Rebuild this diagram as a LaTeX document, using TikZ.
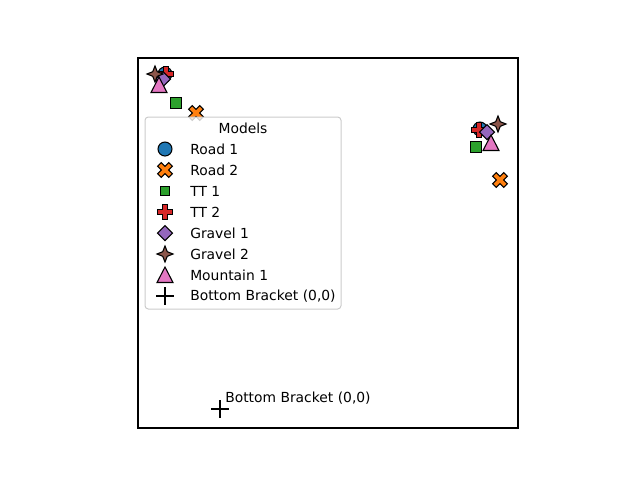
\documentclass[tikz,border=0pt]{standalone}
\usepackage{fontspec}
\setmainfont{DejaVu Sans}
\definecolor{C0}{HTML}{1F77B4}
\definecolor{C1}{HTML}{FF7F0E}
\definecolor{C2}{HTML}{2CA02C}
\definecolor{C3}{HTML}{D62728}
\definecolor{C4}{HTML}{9467BD}
\definecolor{C5}{HTML}{8C564B}
\definecolor{C6}{HTML}{E377C2}
\definecolor{legedge}{HTML}{CCCCCC}
\tikzset{
  mk/.style={draw=black, line width=0.8pt, line join=miter},
  lbl/.style={inner sep=0pt, anchor=west, font=\fontsize{10.4}{12}\selectfont},
  pics/mcirc/.style={code={\filldraw[mk,fill=#1] (0,0) circle (7);}},
  pics/mx/.style={code={\filldraw[mk,fill=#1,scale=3.7] (-1,-2)--(0,-1)--(1,-2)--(2,-1)--(1,0)--(2,1)--(1,2)--(0,1)--(-1,2)--(-2,1)--(-1,0)--(-2,-1)--cycle;}},
  pics/msq/.style={code={\filldraw[mk,fill=#1] (-5.5,-5.5) rectangle (5.5,5.5);}},
  pics/msqs/.style={code={\filldraw[mk,fill=#1] (-4.5,-4.5) rectangle (4.5,4.5);}},
  pics/mplus/.style={code={\filldraw[mk,fill=#1,scale=2.4] (-1,-3)--(-1,-1)--(-3,-1)--(-3,1)--(-1,1)--(-1,3)--(1,3)--(1,1)--(3,1)--(3,-1)--(1,-1)--(1,-3)--cycle;}},
  pics/mdia/.style={code={\filldraw[mk,fill=#1] (0,-7.5)--(7.5,0)--(0,7.5)--(-7.5,0)--cycle;}},
  pics/mstar/.style={code={\filldraw[mk,fill=#1] (0,-8)--(2.3,-2.3)--(8,0)--(2.3,2.3)--(0,8)--(-2.3,2.3)--(-8,0)--(-2.3,-2.3)--cycle;}},
  pics/mtri/.style={code={\filldraw[mk,fill=#1] (0,-8)--(8,7.5)--(-8,7.5)--cycle;}},
  pics/mbb/.style={code={\draw[line width=1.5pt] (-9,0)--(9,0) (0,-9)--(0,9);}},
}
\begin{document}
\begin{tikzpicture}[x=0.75pt,y=-0.75pt]
\useasboundingbox (0,0) rectangle (640,480);
\fill[white] (0,0) rectangle (640,480);
% data points (top-left cluster)
\coordinate (a1) at (165,74);
\coordinate (a2) at (196,113);
\coordinate (a3) at (176,103);
\coordinate (a4) at (166,74);
\coordinate (a5) at (163,79);
\coordinate (a6) at (155,74);
\coordinate (a7) at (159,85);
% right cluster
\coordinate (b1) at (480,129);
\coordinate (b2) at (500,180);
\coordinate (b3) at (476,147);
\coordinate (b4) at (479,130);
\coordinate (b5) at (487,132);
\coordinate (b6) at (498,124);
\coordinate (b7) at (491,143);
\coordinate (bb) at (220,409);
\pic at (a1) {mcirc=C0};
\pic at (b1) {mcirc=C0};
\pic at (a2) {mx=C1};
\pic at (b2) {mx=C1};
\pic at (a3) {msq=C2};
\pic at (b3) {msq=C2};
\pic at (a4) {mplus=C3};
\pic at (b4) {mplus=C3};
\pic at (a5) {mdia=C4};
\pic at (b5) {mdia=C4};
\pic at (a6) {mstar=C5};
\pic at (b6) {mstar=C5};
\pic at (a7) {mtri=C6};
\pic at (b7) {mtri=C6};
\pic at (bb) {mbb};
\node[lbl, anchor=base west] (bbl) at (225,402) {Bottom Bracket (0,0)};
% axes frame
\draw[line width=0.8pt] (138,58) rectangle (518,428);
% legend
\draw[legedge, fill=white, fill opacity=0.8, line width=0.75pt, rounded corners=2.5] (145,117) rectangle (341,309);
\node[lbl, anchor=center] (ltitle) at (243,128.5) {Models};
\pic at (165,149) {mcirc=C0};
\pic at (165,170) {mx=C1};
\pic at (165,191) {msqs=C2};
\pic at (165,212) {mplus=C3};
\pic at (165,233) {mdia=C4};
\pic at (165,254) {mstar=C5};
\pic at (165,275) {mtri=C6};
\pic at (165,296) {mbb};
\node[lbl] (l1) at (190,149) {Road 1};
\node[lbl] (l2) at (190,170) {Road 2};
\node[lbl] (l3) at (190,191) {TT 1};
\node[lbl] (l4) at (190,212) {TT 2};
\node[lbl] (l5) at (190,233) {Gravel 1};
\node[lbl] (l6) at (190,254) {Gravel 2};
\node[lbl] (l7) at (190,275) {Mountain 1};
\node[lbl] (l8) at (190,296) {Bottom Bracket (0,0)};
\end{tikzpicture}
\end{document}
